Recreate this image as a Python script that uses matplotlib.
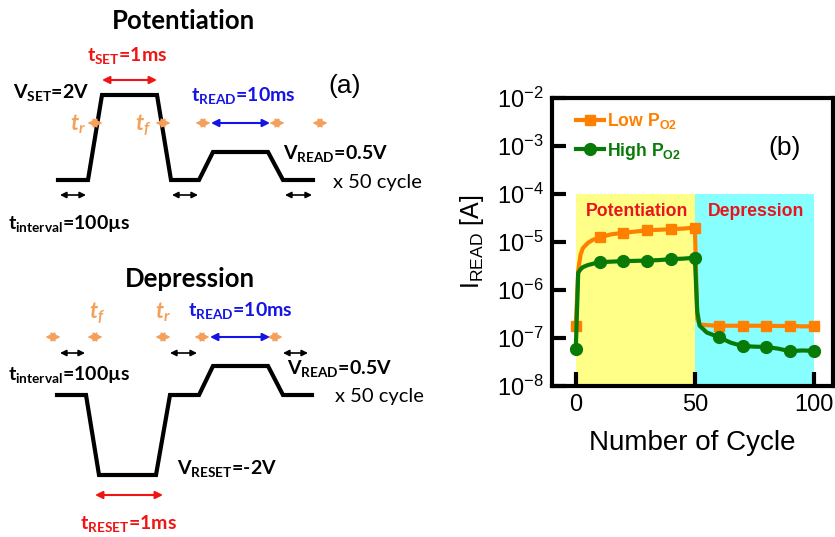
import numpy as np
import matplotlib.pyplot as plt
from matplotlib.ticker import LogFormatterSciNotation, NullLocator

#------------------------ (b) read current data ------------------------
cycles = [0, 1, 2, 3, 5, 7, 10, 15, 20, 25, 30, 35, 40, 45, 50,
          51, 52, 55, 60, 65, 70, 75, 80, 85, 90, 95, 100]
i_low = [1.8e-7, 2.5e-6, 5.5e-6, 7.5e-6, 9.5e-6, 1.1e-5, 1.25e-5, 1.45e-5, 1.55e-5,
         1.65e-5, 1.75e-5, 1.8e-5, 1.85e-5, 1.9e-5, 2.0e-5,
         2.5e-7, 1.9e-7, 1.85e-7, 1.8e-7, 1.8e-7, 1.8e-7, 1.8e-7, 1.8e-7,
         1.78e-7, 1.78e-7, 1.75e-7, 1.75e-7]
i_high = [6e-8, 2.3e-6, 2.7e-6, 3.0e-6, 3.3e-6, 3.5e-6, 3.8e-6, 3.9e-6, 4.0e-6,
          4.05e-6, 4.1e-6, 4.2e-6, 4.4e-6, 4.5e-6, 4.7e-6,
          3.5e-7, 1.8e-7, 1.3e-7, 1.05e-7, 8e-8, 6.8e-8, 6.6e-8, 6.5e-8,
          6e-8, 5.3e-8, 5.5e-8, 5.4e-8]
marker_cycles = [0, 10, 20, 30, 40, 50, 60, 70, 80, 90, 100]
pot_span = [0, 50]
dep_span = [50, 100]
span_top = 1e-4
y_decades = [1e-8, 1e-7, 1e-6, 1e-5, 1e-4, 1e-3, 1e-2]
x_ticks = [0, 50, 100]

#------------------------ (a) pulse schematic (pixel coords) ------------------------
pot_t = [58, 88, 102, 157, 171, 199, 213, 268, 283, 313]
pot_v = [180, 180, 95, 95, 180, 180, 152, 152, 180, 180]
dep_t = [57, 86, 99, 156, 170, 199, 213, 268, 283, 312]
dep_v = [395, 395, 475, 475, 395, 395, 366, 366, 395, 395]
pot_edges = [95, 163, 203, 277, 320]
dep_edges = [53, 95, 163, 202, 275]
pot_gaps = [(60, 86), (172, 198), (285, 312)]
dep_gaps = [(60, 85), (170, 197), (283, 308)]

ORANGE_A = '#F5A05A'
RED = '#F01414'
BLUE = '#1414E6'
FONT_A = 'Lato'
FONT_B = 'Liberation Sans'

fig = plt.figure(figsize=(8.35, 5.37), dpi=100)

# ---------- panel (a) ----------
axa = fig.add_axes([0, 0, 440 / 835, 1])
axa.set_xlim(0, 440)
axa.set_ylim(537, 0)
axa.axis('off')

axa.plot(pot_t, pot_v, color='black', lw=3, solid_joinstyle='miter')
axa.plot(dep_t, dep_v, color='black', lw=3, solid_joinstyle='miter')


def darrow(x1, x2, y, color, lw=1.2, ms=9):
    axa.annotate('', xy=(x2, y), xytext=(x1, y),
                 arrowprops=dict(arrowstyle='<|-|>', color=color, lw=lw,
                                 mutation_scale=ms, shrinkA=0, shrinkB=0))


def txt(x, y, s, color='black', size=14, weight='bold', style='normal', ha='left'):
    axa.text(x, y, s, color=color, fontsize=size, fontweight=weight, fontstyle=style,
             family=FONT_A, ha=ha, va='baseline')


for x in pot_edges:
    darrow(x - 7.5, x + 7.5, 123, ORANGE_A, lw=1, ms=14)
for x in dep_edges:
    darrow(x - 7.5, x + 7.5, 337, ORANGE_A, lw=1, ms=14)
for a, b in pot_gaps:
    darrow(a, b, 195, 'black', lw=1.2, ms=9)
for a, b in dep_gaps:
    darrow(a, b, 353, 'black', lw=1.2, ms=9)
darrow(102, 157, 80, RED, lw=1.5, ms=11)
darrow(211, 270, 123, BLUE, lw=1.5, ms=11)
darrow(210, 270, 337, BLUE, lw=1.5, ms=11)
darrow(95, 163, 495, RED, lw=1.5, ms=11)

# potentiation texts
txt(183, 29, 'Potentiation', size=18.5, ha='center')
txt(127, 62, r't$_{\mathdefault{SET}}$=1ms', color=RED, ha='center')
txt(13, 99, r'V$_{\mathdefault{SET}}$=2V')
txt(243, 102, r't$_{\mathdefault{READ}}$=10ms', color=BLUE, ha='center')
txt(78, 130, r't$_{\mathdefault{r}}$', color=ORANGE_A, size=16, style='italic', ha='center')
txt(143, 130, r't$_{\mathdefault{f}}$', color=ORANGE_A, size=16, style='italic', ha='center')
txt(283, 160, r'V$_{\mathdefault{READ}}$=0.5V')
txt(333, 188, 'x 50 cycle', size=14.5, weight='normal')
txt(8, 230, r't$_{\mathdefault{interval}}$=100µs')
axa.text(345, 93, '(a)', fontsize=19, family=FONT_B, ha='center', va='baseline')

# depression texts
txt(190, 287, 'Depression', size=18.5, ha='center')
txt(97, 318, r't$_{\mathdefault{f}}$', color=ORANGE_A, size=16, style='italic', ha='center')
txt(163, 318, r't$_{\mathdefault{r}}$', color=ORANGE_A, size=16, style='italic', ha='center')
txt(240, 317, r't$_{\mathdefault{READ}}$=10ms', color=BLUE, ha='center')
txt(8, 381, r't$_{\mathdefault{interval}}$=100µs')
txt(287, 375, r'V$_{\mathdefault{READ}}$=0.5V')
txt(335, 402, 'x 50 cycle', size=14.5, weight='normal')
txt(177, 475, r'V$_{\mathdefault{RESET}}$=-2V')
txt(128, 530, r't$_{\mathdefault{RESET}}$=1ms', color=RED, ha='center')

# ---------- panel (b) ----------
ax = fig.add_axes([552 / 835, 1 - 386 / 537, 281 / 835, 288 / 537])
ax.set_yscale('log')
ax.set_xlim(-10, 108)
ax.set_ylim(1e-8, 1e-2)

ax.fill_between(pot_span, 1e-8, span_top, color='#FFFF88', lw=0, zorder=0)
ax.fill_between(dep_span, 1e-8, span_top, color='#88FFFF', lw=0, zorder=0)

mark_idx = [cycles.index(c) for c in marker_cycles]
ax.plot(cycles, i_low, color='#FF8000', lw=3, marker='s', ms=7, markevery=mark_idx,
        label=r'Low P$_{\mathdefault{O2}}$')
ax.plot(cycles, i_high, color='#087A08', lw=3, marker='o', ms=8.5, markevery=mark_idx,
        label=r'High P$_{\mathdefault{O2}}$')

ax.text(25.8, 3.5e-5, 'Potentiation', color='#E8141E', fontsize=12.7, fontweight='bold',
        family=FONT_B, ha='center', va='baseline')
ax.text(75.6, 3.5e-5, 'Depression', color='#E8141E', fontsize=12.7, fontweight='bold',
        family=FONT_B, ha='center', va='baseline')
ax.text(87.8, 6.6e-4, '(b)', fontsize=19, family=FONT_B, ha='center', va='baseline')

leg = ax.legend(loc='upper left', bbox_to_anchor=(0.085, 0.955), frameon=False,
                prop={'family': FONT_B, 'weight': 'bold', 'size': 12.7},
                handlelength=1.6, handletextpad=0.15, borderpad=0, borderaxespad=0,
                labelspacing=0.55)
for t, l in zip(leg.get_texts(), leg.get_lines()):
    t.set_color(l.get_color())

ax.set_yticks(y_decades)
ax.yaxis.set_major_formatter(LogFormatterSciNotation())
ax.yaxis.set_minor_locator(NullLocator())
ax.set_xticks(x_ticks)
for s in ax.spines.values():
    s.set_linewidth(3)
ax.tick_params(direction='in', length=10, width=3, labelsize=17, pad=6)
for lab in ax.get_xticklabels() + ax.get_yticklabels():
    lab.set_family(FONT_B)

ax.set_xlabel('Number of Cycle', fontsize=20, family=FONT_B, labelpad=10)
ax.set_ylabel(r'I$_{\mathdefault{READ}}$ [A]', fontsize=18, family=FONT_B, labelpad=8)

fig.savefig('out.png', dpi=100)
